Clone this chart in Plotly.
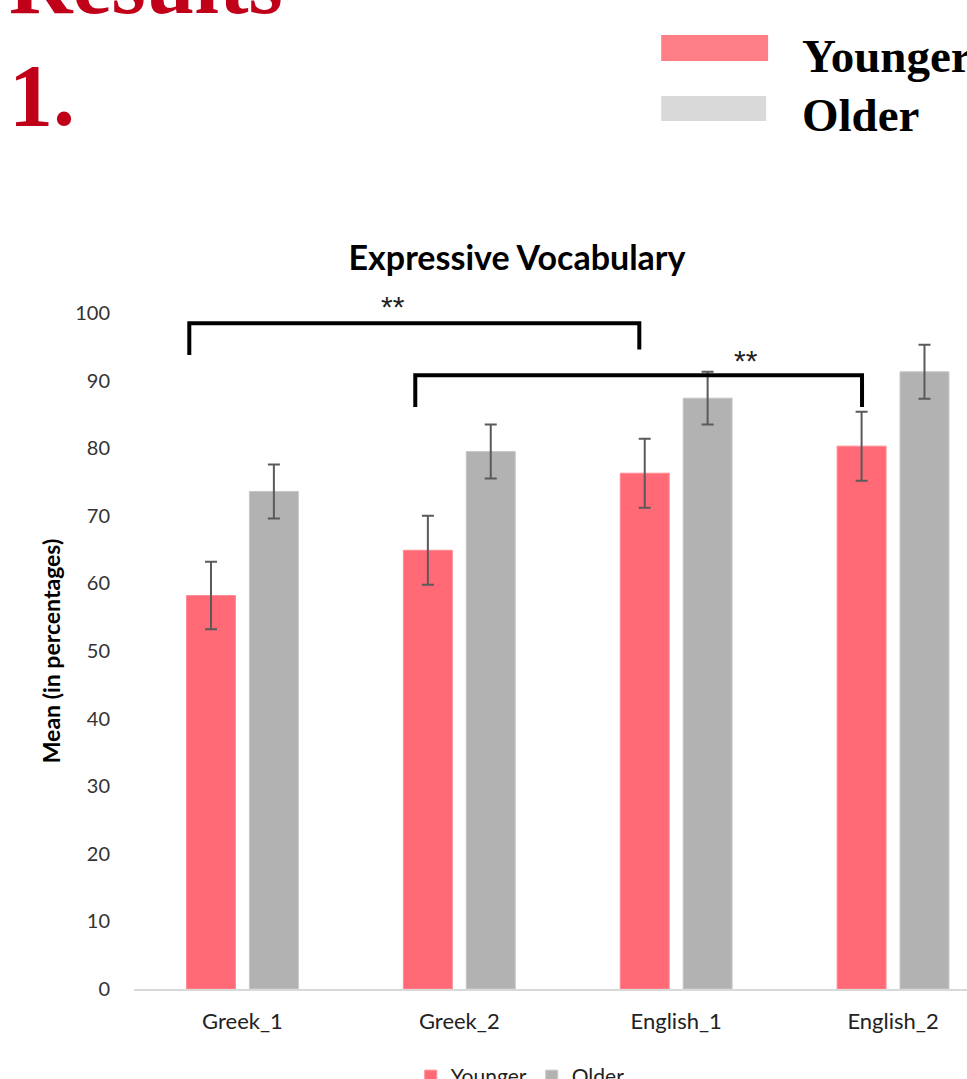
import plotly.graph_objects as go

# --- data -----------------------------------------------------------------
categories = ["Greek_1", "Greek_2", "English_1", "English_2"]
younger = [58.2, 64.9, 76.3, 80.3]
older = [73.6, 79.5, 87.4, 91.3]
younger_err = [5.0, 5.1, 5.1, 5.1]
older_err = [4.0, 4.0, 3.9, 4.0]

# significance brackets: [x_left, x_right], y of bar, y of left/right feet
bracket_x = [[-0.245, 1.83], [0.797, 2.857]]
bracket_top = [98.5, 90.8]
bracket_feet = [[93.8, 94.6], [86.1, 86.1]]
star_x = [0.696, 2.323]
star_y = [101.5, 93.5]
star_text = ["**", "**"]

# --- figure geometry ------------------------------------------------------
W, H = 967, 1079
ML, MR, MT, MB = 133.5, 0, 313, 90
PLOT_W = W - ML - MR
PLOT_H = H - MT - MB
CAT_PX = 217.0
Y_MAX = 100
x_pos = list(range(len(categories)))

PINK = "#FF6A76"
GREY = "#B2B2B2"
ERR = "#5A5A5A"
SANS = "Lato, 'Open Sans', sans-serif"
SERIF = "'Liberation Serif', 'DejaVu Serif', serif"
RED = "#C00018"


def px_x(p):
    return (p - ML) / PLOT_W


def px_y(p):
    return (H - MB - p) / PLOT_H


fig = go.Figure()

fig.add_trace(go.Bar(
    name="Younger", x=x_pos, y=younger, marker_color=PINK,
    marker_line=dict(color="#FF8A94", width=1),
    error_y=dict(type="data", array=younger_err, color=ERR, thickness=2, width=6),
))
fig.add_trace(go.Bar(
    name="Older", x=x_pos, y=older, marker_color=GREY,
    marker_line=dict(color="#C6C6C6", width=1),
    error_y=dict(type="data", array=older_err, color=ERR, thickness=2, width=6),
))

# brackets
for (xl, xr), top, (fl, fr) in zip(bracket_x, bracket_top, bracket_feet):
    fig.add_trace(go.Scatter(
        x=[xl, xl, xr, xr], y=[fl, top, top, fr], mode="lines",
        line=dict(color="black", width=4), showlegend=False, hoverinfo="skip",
    ))

# significance stars (y given in axis units, placed on the paper so the
# upper one can sit above the top of the value range)
for sx, sy, st in zip(star_x, star_y, star_text):
    fig.add_annotation(x=sx, y=sy / Y_MAX, xref="x", yref="paper", text=st,
                       showarrow=False, yanchor="middle", yshift=-4,
                       font=dict(family="'Liberation Sans', sans-serif", size=30,
                                 color="#222222"))

# header text and the large legend at the top
fig.add_annotation(xref="paper", yref="paper", x=px_x(6), y=px_y(-16), text="<b>Results</b>",
                   showarrow=False, xanchor="left", yanchor="middle",
                   font=dict(family=SERIF, size=88, color=RED))
fig.add_annotation(xref="paper", yref="paper", x=px_x(6), y=px_y(95), text="<b>1.</b>",
                   showarrow=False, xanchor="left", yanchor="middle",
                   font=dict(family=SERIF, size=88, color=RED))

fig.add_shape(type="rect", xref="paper", yref="paper", x0=px_x(661), x1=px_x(768),
              y0=px_y(61), y1=px_y(35), fillcolor="#FF7F89", line_width=0)
fig.add_shape(type="rect", xref="paper", yref="paper", x0=px_x(661), x1=px_x(766),
              y0=px_y(121), y1=px_y(96), fillcolor="#D9D9D9", line_width=0)
fig.add_annotation(xref="paper", yref="paper", x=px_x(800), y=px_y(56), text="<b>Younger</b>",
                   showarrow=False, xanchor="left", yanchor="middle",
                   font=dict(family=SERIF, size=47, color="black"))
fig.add_annotation(xref="paper", yref="paper", x=px_x(800), y=px_y(115), text="<b>Older</b>",
                   showarrow=False, xanchor="left", yanchor="middle",
                   font=dict(family=SERIF, size=47, color="black"))

fig.update_layout(
    width=W, height=H,
    margin=dict(l=ML, r=MR, t=MT, b=MB, autoexpand=False),
    paper_bgcolor="white", plot_bgcolor="white",
    barmode="group", bargap=0.42, bargroupgap=0.222,
    title=dict(text="<b>Expressive Vocabulary</b>", x=517 / W, xref="container",
               xanchor="center", y=1 - 258 / H, yref="container", yanchor="middle",
               font=dict(family=SANS, size=34, color="black")),
    legend=dict(orientation="h", x=(520 - ML) / PLOT_W, xanchor="center",
                yref="container", y=1 - 1056 / H, yanchor="top",
                font=dict(family=SANS, size=21, color="#222222"), traceorder="normal"),
    showlegend=True,
)

fig.update_xaxes(
    range=[-0.5, -0.5 + PLOT_W / CAT_PX], tickvals=x_pos, ticktext=categories,
    showgrid=False, zeroline=False, showline=True, linecolor="#D9D9D9", linewidth=2,
    ticks="", tickfont=dict(family=SANS, size=22, color="#222222"), ticklabelstandoff=12,
    fixedrange=True,
)
fig.update_yaxes(
    range=[0, Y_MAX], dtick=10, showgrid=False, zeroline=False, showline=False,
    ticks="", tickfont=dict(family=SANS, size=20, color="#333333"), ticklabelstandoff=23,
    title=dict(text="<b>Mean (in percentages)</b>", standoff=8,
               font=dict(family=SANS, size=23, color="black")),
    fixedrange=True,
)

fig.write_html("out.html")
